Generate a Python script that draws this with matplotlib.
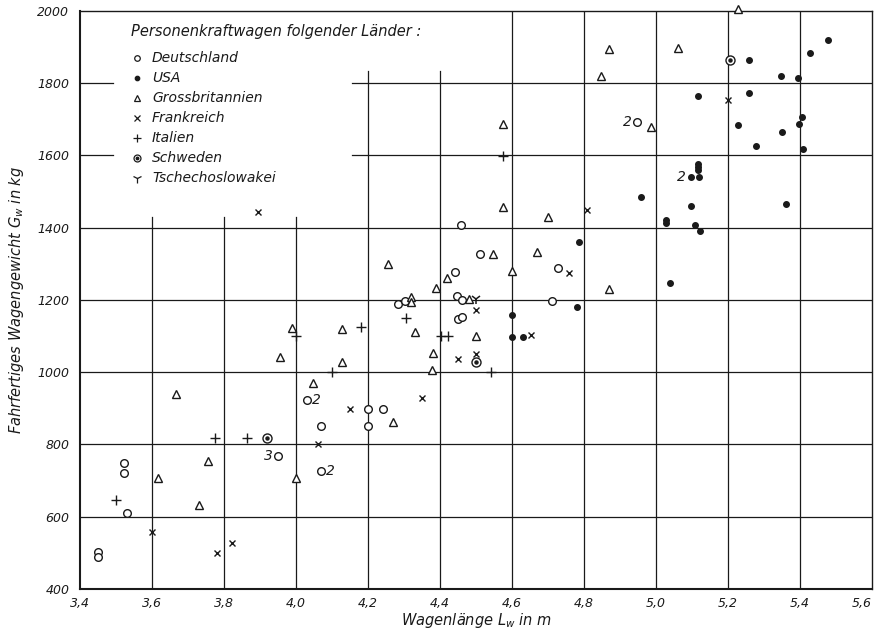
import matplotlib
matplotlib.use("Agg")
import matplotlib.pyplot as plt

# Wagenlaenge L_w [m] und fahrfertiges Wagengewicht G_w [kg]
de_x = [3.449, 3.449, 3.52, 3.52, 3.53, 3.949, 4.029, 4.068, 4.069, 4.20, 4.242, 4.20,
        4.284, 4.302, 4.442, 4.448, 4.46, 4.449, 4.46, 4.458, 4.51, 4.711, 4.728, 4.947]
de_y = [502, 487, 749, 721, 611, 768, 922, 727, 851, 897, 897, 851,
        1188, 1197, 1277, 1211, 1201, 1146, 1153, 1407, 1327, 1196, 1288, 1692]

usa_x = [4.599, 4.631, 4.599, 4.781, 4.786, 4.958, 5.038, 5.028, 5.028, 5.098, 5.108,
         5.122, 5.098, 5.121, 5.118, 5.118, 5.118, 5.118, 5.229, 5.258, 5.259, 5.277,
         5.349, 5.361, 5.347, 5.396, 5.398, 5.407, 5.41, 5.429, 5.479]
usa_y = [1097, 1097, 1159, 1179, 1359, 1484, 1246, 1422, 1412, 1460, 1406,
         1392, 1539, 1541, 1576, 1569, 1561, 1764, 1684, 1774, 1863, 1627,
         1664, 1466, 1820, 1815, 1688, 1706, 1617, 1883, 1920]

gb_x = [3.616, 3.665, 3.73, 3.754, 3.956, 3.989, 3.999, 4.047, 4.128, 4.128, 4.256,
        4.27, 4.319, 4.319, 4.329, 4.378, 4.379, 4.389, 4.418, 4.481, 4.501, 4.546,
        4.576, 4.576, 4.599, 4.67, 4.701, 4.846, 4.869, 4.869, 4.986, 5.061, 5.229]
gb_y = [708, 939, 632, 753, 1042, 1121, 708, 969, 1118, 1029, 1299,
        862, 1209, 1195, 1110, 1006, 1052, 1232, 1261, 1202, 1100, 1327,
        1456, 1687, 1281, 1333, 1430, 1820, 1894, 1230, 1680, 1897, 2005]

fr_x = [3.598, 3.78, 3.82, 3.895, 4.06, 4.15, 4.349, 4.451, 4.50, 4.501, 4.652,
        4.758, 4.808, 5.199]
fr_y = [556, 499, 528, 1444, 800, 899, 927, 1036, 1050, 1172, 1102,
        1275, 1449, 1753]

it_x = [3.498, 3.773, 3.863, 3.998, 4.10, 4.181, 4.305, 4.402, 4.421, 4.541, 4.576]
it_y = [645, 818, 818, 1100, 1001, 1125, 1151, 1101, 1101, 1001, 1599]

se_x = [3.92, 4.50, 5.206]
se_y = [818, 1029, 1864]

cs_x = [4.50]
cs_y = [1202]

# Anzahl gleicher Wagen (Beschriftung neben dem Punkt)
count_x = [3.949, 4.029, 4.068, 4.947, 5.098]
count_y = [768, 922, 727, 1692, 1539]
count_txt = ["3", "2", "2", "2", "2"]
count_side = ["l", "r", "r", "l", "l"]

xticks = [3.4, 3.6, 3.8, 4.0, 4.2, 4.4, 4.6, 4.8, 5.0, 5.2, 5.4, 5.6]
yticks = [400, 600, 800, 1000, 1200, 1400, 1600, 1800, 2000]

ink = "#1a1a1a"
plt.rcParams["font.family"] = "DejaVu Sans"
plt.rcParams["font.style"] = "italic"
plt.rcParams["mathtext.fontset"] = "dejavusans"

fig = plt.figure(figsize=(8.79, 6.29), dpi=100)
ax = fig.add_axes([0.0915, 0.064, 0.9003, 0.9185])
ax.set_xlim(3.4, 5.6)
ax.set_ylim(400, 2000)

# Gitter, oben links vom Legendenfeld ausgespart
for xv in xticks[1:-1]:
    top = 2000
    if xv < 4.1:
        top = 1430
    elif xv < 4.5:
        top = 1835
    ax.plot([xv, xv], [400, top], color=ink, lw=0.9, zorder=1)
for yv in yticks[1:-1]:
    if yv in (1600, 1800):
        ax.plot([3.4, 3.49], [yv, yv], color=ink, lw=0.9, zorder=1)
        ax.plot([4.155, 5.6], [yv, yv], color=ink, lw=0.9, zorder=1)
    else:
        ax.plot([3.4, 5.6], [yv, yv], color=ink, lw=0.9, zorder=1)

ms = dict(linestyle="none", color=ink, zorder=3, clip_on=False)
ax.plot(de_x, de_y, marker="o", ms=5.5, mfc="white", mew=1.0, **ms)
ax.plot(usa_x, usa_y, marker="o", ms=4, **ms)
ax.plot(gb_x, gb_y, marker="^", ms=6, mfc="white", mew=1.0, **ms)
ax.plot(fr_x, fr_y, marker="x", ms=4.8, mew=1.0, **ms)
ax.plot(it_x, it_y, marker="+", ms=6.5, mew=1.0, **ms)
ax.plot(se_x, se_y, marker="o", ms=6.5, mfc="white", mew=1.0, **ms)
ax.plot(se_x, se_y, marker="o", ms=2.2, **ms)
ax.plot(cs_x, cs_y, marker="1", ms=7.5, mew=1.1, **ms)

for cx, cy, t, s in zip(count_x, count_y, count_txt, count_side):
    if s == "r":
        ax.annotate(t, (cx, cy), xytext=(4, 0), textcoords="offset points",
                    ha="left", va="center", fontsize=10, color=ink)
    else:
        ax.annotate(t, (cx, cy), xytext=(-4, 0), textcoords="offset points",
                    ha="right", va="center", fontsize=10, color=ink)

# Legende
ax.text(0.0636, 0.964, "Personenkraftwagen folgender Länder :", transform=ax.transAxes,
        fontsize=10.5, color=ink, va="center", ha="left")
leg_names = ["Deutschland", "USA", "Grossbritannien", "Frankreich", "Italien",
             "Schweden", "Tschechoslowakei"]
leg_marks = [("o", 4, "white"), ("o", 3.2, ink), ("^", 4.5, "white"), ("x", 4, ink),
             ("+", 5.5, ink), ("o", 5, "white"), ("1", 6.5, ink)]
for i, (name, (m, size, fc)) in enumerate(zip(leg_names, leg_marks)):
    yy = 0.918 - i * 0.0346
    ax.plot([0.0712], [yy], marker=m, ms=size, mfc=fc, mew=0.9, color=ink,
            transform=ax.transAxes, zorder=3)
    if name == "Schweden":
        ax.plot([0.0712], [yy], marker="o", ms=1.8, color=ink,
                transform=ax.transAxes, zorder=3)
    ax.text(0.0905, yy, name, transform=ax.transAxes, fontsize=10,
            color=ink, va="center", ha="left")

ax.set_xticks(xticks)
ax.set_xticklabels([("%.1f" % v).replace(".", ",") for v in xticks])
ax.set_yticks(yticks)
ax.set_yticklabels([str(v) for v in yticks])
ax.tick_params(length=0, labelsize=9, colors=ink, pad=8)
ax.tick_params(axis="x", pad=6)
ax.get_xticklabels()[-1].set_horizontalalignment("right")
for sp in ax.spines.values():
    sp.set_color(ink)
    sp.set_linewidth(1.0)
ax.spines["left"].set_linewidth(1.5)
ax.spines["bottom"].set_linewidth(1.5)

ax.set_xlabel("Wagenlänge $L_w$ in m", fontsize=10.5, color=ink, labelpad=1)
ax.set_ylabel("Fahrfertiges Wagengewicht $G_w$ in kg", fontsize=10.5, color=ink,
              labelpad=8)

fig.savefig("out.png", dpi=100)
